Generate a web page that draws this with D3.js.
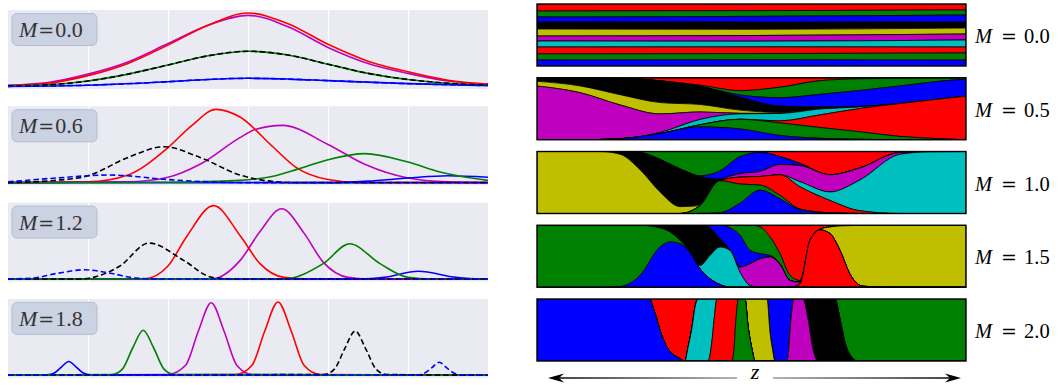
<!DOCTYPE html>
<html><head><meta charset="utf-8"><title>Mode profiles and stacked mode fractions</title>
<style>
  body { margin: 0; background: #fff; }
  svg { display: block; }
</style>
</head>
<body>
<svg id="chart" width="1063" height="385"></svg>
<script src="https://cdn.jsdelivr.net/npm/d3@7/dist/d3.min.js"></script>
<script>
// ---------- left column: profiles at four values of M ----------
const profileLabels = ["0.0", "0.6", "1.2", "1.8"];
const profileTicks = [1, 2, 3, 4, 5];
// drawing order: magenta, red, blue, green, black dashed, blue dashed
const profileSeries = [
  {color: "#bf00bf", dash: null},
  {color: "#ff0000", dash: null},
  {color: "#0000ff", dash: null},
  {color: "#008000", dash: null},
  {color: "#000000", dash: "5.5,3"},
  {color: "#0000ff", dash: "5.5,3"}
];

const profile00 = [
  [[0,0.015],[0.5,0.05],[1,0.16],[1.5,0.32],[2,0.56],[2.5,0.8],[3,0.93],[3.5,0.78],[4,0.51],[4.5,0.3],[5,0.17],[5.5,0.07],[6,0.03]],
  [[0,0.01],[0.5,0.04],[1,0.14],[1.5,0.3],[2,0.54],[2.5,0.8],[3,0.96],[3.5,0.82],[4,0.55],[4.5,0.33],[5,0.19],[5.5,0.08],[6,0.03]],
  [[0,0],[1,0.015],[2,0.06],[2.5,0.09],[3,0.105],[3.5,0.095],[4,0.075],[5,0.035],[6,0.01]],
  [[0,0.005],[0.5,0.02],[1,0.07],[1.5,0.16],[2,0.28],[2.5,0.4],[3,0.46],[3.5,0.41],[4,0.29],[4.5,0.17],[5,0.09],[5.5,0.04],[6,0.015]],
  [[0,0.005],[0.5,0.02],[1,0.07],[1.5,0.16],[2,0.28],[2.5,0.4],[3,0.46],[3.5,0.41],[4,0.29],[4.5,0.17],[5,0.09],[5.5,0.04],[6,0.015]],
  [[0,0],[1,0.015],[2,0.06],[2.5,0.09],[3,0.105],[3.5,0.095],[4,0.075],[5,0.035],[6,0.01]]
];
const profile06 = [
  [[0,0],[1.5,0.01],[2,0.07],[2.4,0.24],[2.9,0.59],[3.1,0.7],[3.43,0.75],[4,0.5],[4.46,0.24],[5,0.06],[5.5,0.01],[6,0]],
  [[0,0],[1,0.01],[1.5,0.1],[2,0.46],[2.3,0.75],[2.6,0.96],[2.9,0.86],[3.3,0.48],[3.6,0.2],[4,0.04],[4.4,0],[6,0]],
  [[0,0],[4,0],[4.5,0.02],[5,0.06],[5.5,0.09],[6,0.07]],
  [[0,0],[2,0.005],[2.9,0.03],[3.3,0.08],[3.63,0.18],[4,0.3],[4.46,0.38],[5,0.27],[5.4,0.14],[6,0.03]],
  [[0,0],[0.6,0.03],[1,0.09],[1.5,0.33],[1.95,0.47],[2.4,0.33],[2.9,0.1],[3.2,0.03],[3.6,0],[6,0]],
  [[0,0.01],[0.6,0.06],[1.27,0.1],[2,0.04],[2.5,0.01],[3,0],[6,0]]
];
const profile12 = [
  [[0,0],[2.55,0],[2.9,0.24],[3.15,0.62],[3.42,0.92],[3.7,0.6],[3.94,0.22],[4.25,0.02],[4.5,0],[6,0]],
  [[0,0],[1.7,0],[2,0.17],[2.23,0.55],[2.57,0.96],[2.9,0.57],[3.15,0.2],[3.45,0.02],[3.8,0],[6,0]],
  [[0,0],[4.4,0],[4.7,0.02],[5.13,0.1],[5.6,0.02],[5.9,0],[6,0]],
  [[0,0],[3.45,0],[3.94,0.2],[4.27,0.46],[4.65,0.2],[5,0.02],[5.3,0],[6,0]],
  [[0,0],[0.9,0],[1.1,0.03],[1.4,0.17],[1.76,0.47],[2.2,0.24],[2.55,0.02],[2.8,0],[6,0]],
  [[0,0],[0.3,0.01],[0.6,0.07],[0.96,0.12],[1.3,0.07],[1.6,0.01],[1.9,0],[6,0]]
];
const profile18 = [
  [[0,0],[2.0,0.01],[2.22,0.13],[2.38,0.58],[2.54,0.95],[2.7,0.58],[2.86,0.13],[3.05,0.01],[6,0]],
  [[0,0],[2.85,0.01],[3.05,0.13],[3.21,0.58],[3.375,0.96],[3.54,0.58],[3.7,0.13],[3.9,0.01],[6,0]],
  [[0,0],[0.49,0.005],[0.58,0.03],[0.67,0.11],[0.76,0.18],[0.85,0.11],[0.94,0.03],[1.03,0.005],[6,0]],
  [[0,0],[1.3,0.01],[1.43,0.08],[1.56,0.36],[1.69,0.59],[1.82,0.36],[1.95,0.08],[2.08,0.01],[6,0]],
  [[0,0],[3.95,0.01],[4.08,0.08],[4.21,0.35],[4.34,0.58],[4.47,0.35],[4.6,0.08],[4.73,0.01],[6,0]],
  [[0,0],[5.12,0.005],[5.21,0.03],[5.3,0.1],[5.39,0.17],[5.48,0.1],[5.57,0.03],[5.66,0.005],[6,0]]
];
const profiles = [profile00, profile06, profile12, profile18];

// ---------- right column: stacked fractions along z ----------
const streamLabels = ["0.0", "0.5", "1.0", "1.5", "2.0"];
const layerColors = ["#ff0000", "#008000", "#0000ff", "#000000", "#bfbf00",
                     "#bf00bf", "#00bfbf", "#ff0000", "#008000", "#0000ff"];
// rows: [z, {layer: share}] ; missing layers are zero, each row is normalised
const stream00 = [
  [0,     {0:7, 1:6, 2:5, 3:7, 4:7, 5:5, 6:6, 7:7, 8:6, 9:6}],
  [21.45, {0:6.5, 1:5.5, 2:5.5, 3:7, 4:6, 5:5.5, 6:5.5, 7:6.5, 8:6, 9:6}],
  [42.9,  {0:6, 1:5, 2:7, 3:6, 4:6, 5:6, 6:7, 7:6, 8:7, 9:6}]
];
const stream05 = [
  [0,    {3:3.5, 4:4.7, 5:53}],
  [4.3,  {3:8.5, 4:7, 5:49}],
  [8.3,  {0:0.5, 3:16, 4:10, 5:33, 9:1}],
  [12.3, {0:3, 3:21, 4:11, 5:18, 6:1, 9:6}],
  [16.3, {0:7, 1:1, 3:17, 4:7, 5:7, 6:5, 8:2, 9:12}],
  [20.3, {0:12, 1:4, 2:2, 3:12, 4:3, 5:0.5, 6:5, 8:9, 9:10}],
  [24.3, {0:9, 1:10, 2:8, 3:6, 4:1, 6:7, 7:2, 8:12, 9:4}],
  [28.3, {0:3, 1:14, 2:13, 3:2, 6:6, 7:13, 8:11, 9:1.5}],
  [32.3, {0:1, 1:11, 2:15, 3:0.5, 6:1.5, 7:22, 8:7, 9:0.5}],
  [36.3, {0:0.5, 1:7, 2:16, 7:30, 8:3}],
  [40.3, {0:0.3, 1:3, 2:17, 7:38, 8:1}],
  [42.9, {0:0.3, 1:1, 2:17, 7:43}]
];
const stream10 = [
  [0,    {4:181}],
  [6.3,  {4:181}],
  [8.3,  {3:8, 4:173}],
  [10.3, {1:3, 3:50, 4:128}],
  [12.3, {1:23, 3:95, 4:63}],
  [14.3, {1:51, 3:110, 4:20}],
  [16.3, {1:71, 2:2, 3:85, 8:23}],
  [18.3, {1:55, 2:23, 3:5, 8:91, 9:2}],
  [20.3, {1:15, 2:50, 5:10, 7:20, 8:56, 9:30}],
  [22.3, {0:1, 1:2, 2:55, 5:15, 7:25, 8:15, 9:68}],
  [24.3, {0:15, 2:23, 5:30, 7:60, 8:10, 9:43}],
  [26.3, {0:35, 2:6, 5:47, 6:15, 7:65, 8:2, 9:11}],
  [29.3, {0:68, 5:50, 6:25, 7:36, 9:2}],
  [32.3, {0:48, 5:35, 6:90, 7:8}],
  [36.3, {0:3, 5:5, 6:173}],
  [39.3, {0:1, 6:180}],
  [42.9, {6:181}]
];
const stream15 = [
  [0,    {8:185}],
  [6.3,  {8:185}],
  [8.3,  {8:183, 9:2}],
  [10.3, {8:150, 9:35}],
  [12.3, {3:8, 8:57, 9:120}],
  [13.3, {3:20, 8:30, 9:135}],
  [14.3, {3:45, 8:10, 9:130}],
  [15.3, {3:80, 8:2, 9:103}],
  [16.3, {3:120, 6:10, 9:55}],
  [17.3, {2:8, 3:82, 6:70, 9:25}],
  [18.3, {2:40, 3:25, 6:112, 9:8}],
  [19.3, {1:8, 2:65, 3:2, 6:110}],
  [20.3, {1:30, 2:95, 5:15, 6:45}],
  [21.3, {1:75, 2:40, 5:65, 6:5}],
  [22.3, {0:5, 1:80, 2:15, 5:85}],
  [23.3, {0:35, 1:55, 2:5, 5:90}],
  [24.3, {0:85, 1:30, 2:2, 5:68}],
  [25.3, {0:150, 1:15, 5:20}],
  [26.3, {0:165, 1:5, 5:5, 7:10}],
  [27.3, {0:45, 7:140}],
  [28.3, {0:12, 4:2, 7:171}],
  [29.3, {0:5, 4:20, 7:160}],
  [30.3, {0:2, 4:73, 7:110}],
  [31.3, {0:1, 4:145, 7:39}],
  [32.6, {4:182, 7:3}],
  [35.3, {4:185}],
  [42.9, {4:185}]
];
const stream20 = [
  [0,     {9:185}],
  [11.2,  {9:185}],
  [11.8,  {0:43, 9:142}],
  [12.3,  {0:93, 9:92}],
  [12.8,  {0:133, 9:52}],
  [13.5,  {0:163, 9:22}],
  [14.3,  {0:178, 9:7}],
  [14.8,  {0:185}],
  [15.1,  {0:145, 6:40}],
  [15.5,  {0:85, 6:100}],
  [15.8,  {0:25, 6:160}],
  [16.1,  {6:185}],
  [17.1,  {6:185}],
  [17.5,  {6:125, 7:60}],
  [17.7,  {6:65, 7:120}],
  [18.0,  {7:185}],
  [19.5,  {7:185}],
  [19.7,  {7:150, 8:35}],
  [19.9,  {7:60, 8:125}],
  [20.15, {8:185}],
  [20.8,  {8:185}],
  [21.1,  {4:80, 8:105}],
  [21.5,  {4:150, 8:35}],
  [21.8,  {4:185}],
  [23.0,  {4:185}],
  [23.3,  {2:100, 4:85}],
  [23.55, {2:150, 4:35}],
  [23.8,  {2:185}],
  [25.0,  {2:185}],
  [25.15, {2:160, 5:25}],
  [25.3,  {2:95, 5:90}],
  [25.5,  {2:30, 5:155}],
  [25.7,  {5:185}],
  [26.6,  {5:185}],
  [27.1,  {3:60, 5:125}],
  [27.6,  {3:150, 5:35}],
  [28.1,  {3:185}],
  [29.8,  {3:185}],
  [30.3,  {1:60, 3:125}],
  [30.8,  {1:130, 3:55}],
  [31.5,  {1:175, 3:10}],
  [32.0,  {1:185}],
  [42.9,  {1:185}]
];
const streams = [stream00, stream05, stream10, stream15, stream20];

// ---------- drawing ----------
const serif = "'Liberation Serif', 'DejaVu Serif', serif";
const svg = d3.select("#chart");
const defs = svg.append("defs");

// left panels
const left = {x0: 8, x1: 488, top: 10, step: 96.3, h: 79};
const t = d3.scaleLinear().domain([0, 6]).range([left.x0, left.x1]);

profiles.forEach((curves, i) => {
  const top = left.top + i * left.step;
  const y = d3.scaleLinear().domain([-0.035, 1]).range([top + left.h, top]);
  const g = svg.append("g");

  defs.append("clipPath").attr("id", "lclip" + i)
    .append("rect").attr("x", left.x0).attr("y", top)
    .attr("width", left.x1 - left.x0).attr("height", left.h);

  g.append("rect")
    .attr("x", left.x0).attr("y", top)
    .attr("width", left.x1 - left.x0).attr("height", left.h)
    .attr("fill", "#eaeaf2");

  const grid = g.append("g")
    .attr("transform", `translate(0,${top + left.h})`)
    .call(d3.axisBottom(t).tickValues(profileTicks).tickSize(-left.h).tickFormat(""));
  grid.select(".domain").remove();
  grid.selectAll(".tick line").attr("stroke", "#ffffff").attr("stroke-width", 1.2);

  const line = d3.line()
    .x(d => t(d[0]))
    .y(d => y(d[1]))
    .curve(d3.curveMonotoneX);

  g.append("g").attr("clip-path", `url(#lclip${i})`)
    .selectAll("path")
    .data(curves)
    .join("path")
    .attr("fill", "none")
    .attr("stroke", (d, k) => profileSeries[k].color)
    .attr("stroke-width", 1.6)
    .attr("stroke-dasharray", (d, k) => profileSeries[k].dash)
    .attr("d", line);

  // label box
  g.append("rect")
    .attr("x", 12).attr("y", top + 3.5)
    .attr("width", 85).attr("height", 32).attr("rx", 5)
    .attr("fill", "#cbd2e2").attr("stroke", "#b5bdcf").attr("stroke-width", 1);
  const tx = g.append("text")
    .attr("font-family", serif)
    .attr("x", 19).attr("y", top + 27)
    .attr("font-size", 22).attr("fill", "#333");
  tx.append("tspan").attr("font-style", "italic").text("M");
  tx.append("tspan").attr("font-family", "'DejaVu Serif', serif").attr("font-size", 19).attr("dx", 1).text("=");
  tx.append("tspan").attr("dx", 1).text(profileLabels[i]);
});

// right panels
const right = {x0: 537, x1: 966, top: 4, step: 73.75, h: 62};
const z = d3.scaleLinear().domain([0, 42.9]).range([right.x0, right.x1]);
const keys = d3.range(10);
const stack = d3.stack().keys(keys).offset(d3.stackOffsetExpand);

streams.forEach((rows, i) => {
  const top = right.top + i * right.step;
  const y = d3.scaleLinear().domain([0, 1]).range([top, top + right.h]);
  const table = rows.map(([zz, v]) => {
    const o = {z: zz};
    keys.forEach(k => { o[k] = v[k] || 0; });
    return o;
  });
  const series = stack(table);

  defs.append("clipPath").attr("id", "rclip" + i)
    .append("rect").attr("x", right.x0).attr("y", top)
    .attr("width", right.x1 - right.x0).attr("height", right.h);

  const area = d3.area()
    .x(d => z(d.data.z))
    .y0(d => y(d[0]))
    .y1(d => y(d[1]))
    .curve(d3.curveMonotoneX);

  svg.append("g").attr("clip-path", `url(#rclip${i})`)
    .selectAll("path")
    .data(series)
    .join("path")
    .attr("fill", (d, k) => layerColors[k])
    .attr("stroke", "#000")
    .attr("stroke-width", 0.8)
    .attr("stroke-linejoin", "round")
    .attr("d", area);

  svg.append("rect")
    .attr("x", right.x0).attr("y", top)
    .attr("width", right.x1 - right.x0).attr("height", right.h)
    .attr("fill", "none").attr("stroke", "#000").attr("stroke-width", 1.4);

  const tx = svg.append("text")
    .attr("font-family", serif)
    .attr("x", 975).attr("y", top + 39)
    .attr("font-size", 20.5).attr("fill", "#000");
  tx.append("tspan").attr("font-style", "italic").text("M");
  tx.append("tspan").attr("font-family", "'DejaVu Serif', serif").attr("font-size", 19).attr("dx", 9).text("=");
  tx.append("tspan").attr("dx", 7).text(streamLabels[i]);
});

// z arrow
const arrowY = 378;
const gradL = defs.append("linearGradient").attr("id", "gl")
  .attr("gradientUnits", "userSpaceOnUse")
  .attr("x1", 548).attr("x2", 737).attr("y1", 0).attr("y2", 0);
gradL.append("stop").attr("offset", 0).attr("stop-color", "#000");
gradL.append("stop").attr("offset", 1).attr("stop-color", "#9a9a9a");
const gradR = defs.append("linearGradient").attr("id", "gr")
  .attr("gradientUnits", "userSpaceOnUse")
  .attr("x1", 773).attr("x2", 961).attr("y1", 0).attr("y2", 0);
gradR.append("stop").attr("offset", 0).attr("stop-color", "#9a9a9a");
gradR.append("stop").attr("offset", 1).attr("stop-color", "#000");

svg.append("line").attr("x1", 556).attr("x2", 737).attr("y1", arrowY).attr("y2", arrowY)
  .attr("stroke", "url(#gl)").attr("stroke-width", 1.4);
svg.append("line").attr("x1", 773).attr("x2", 953).attr("y1", arrowY).attr("y2", arrowY)
  .attr("stroke", "url(#gr)").attr("stroke-width", 1.4);
svg.append("path")
  .attr("d", `M548,${arrowY} L564,${arrowY - 4.5} L559,${arrowY} L564,${arrowY + 4.5} Z`)
  .attr("fill", "#000");
svg.append("path")
  .attr("d", `M961,${arrowY} L945,${arrowY - 4.5} L950,${arrowY} L945,${arrowY + 4.5} Z`)
  .attr("fill", "#000");
svg.append("text")
  .attr("font-family", serif)
  .attr("x", 755).attr("y", 379)
  .attr("text-anchor", "middle")
  .attr("font-size", 22).attr("font-style", "italic")
  .text("z");
</script>
</body>
</html>
